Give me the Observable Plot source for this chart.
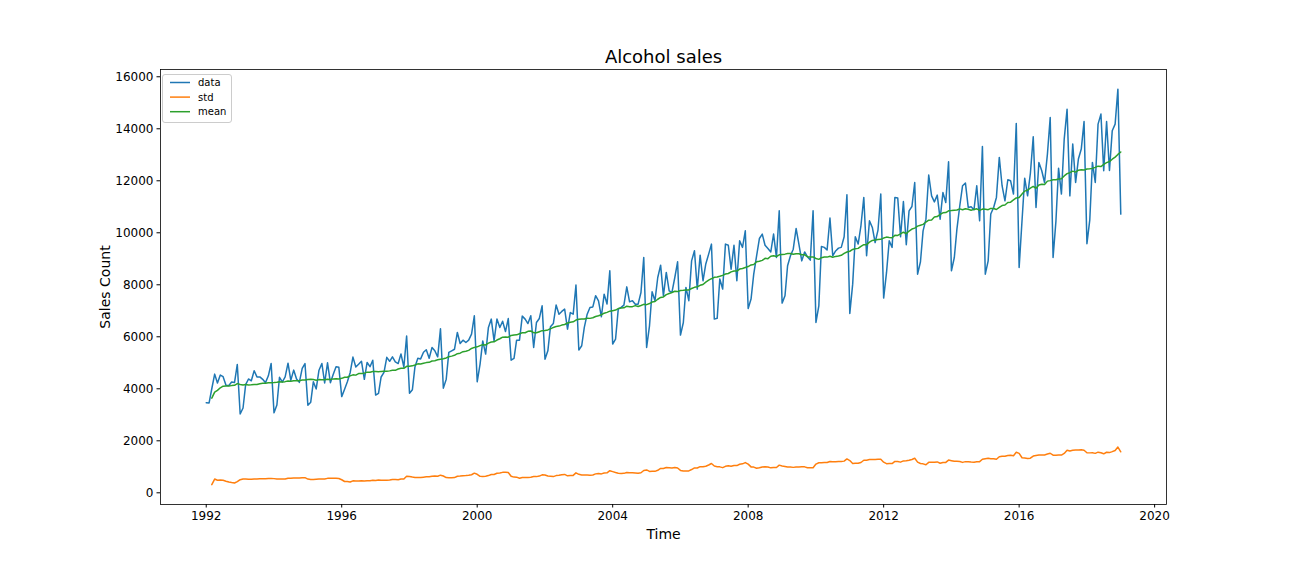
<!DOCTYPE html>
<html>
<head>
<meta charset="utf-8">
<script src="https://cdn.jsdelivr.net/npm/d3@7"></script>
<script src="https://cdn.jsdelivr.net/npm/@observablehq/plot@0.6"></script>
<style>
  html, body { margin: 0; padding: 0; background: white; }
  #chart svg { display: block; }
</style>
</head>
<body>
<div id="chart"></div>
<script>
// ---- data (monthly, starting January 1992) ----
const startYear = 1992;
const sales = [
  3459, 3458, 4002, 4564, 4221, 4529, 4466, 4137, 4126, 4259, 4240, 4936,
  3031, 3261, 4160, 4377, 4307, 4696, 4458, 4457, 4364, 4236, 4500, 4974,
  3075, 3377, 4443, 4261, 4460, 4985, 4324, 4719, 4374, 4248, 4784, 4971,
  3370, 3484, 4269, 3994, 4715, 4974, 4223, 5000, 4235, 4554, 4851, 4826,
  3699, 3983, 4262, 4619, 5219, 4836, 4941, 5062, 4365, 5012, 4850, 5097,
  3758, 3825, 4454, 4635, 5210, 5057, 5231, 5034, 4970, 5342, 4831, 6031,
  3830, 3964, 4850, 5173, 5150, 5406, 5502, 5174, 5592, 5465, 5229, 6306,
  4025, 4370, 5400, 5460, 5520, 6166, 5740, 5870, 5780, 5870, 6100, 6807,
  4270, 4950, 5840, 5335, 6360, 6680, 5840, 6680, 6360, 6600, 6200, 6700,
  5100, 5170, 5870, 5870, 6795, 6680, 6510, 6810, 5590, 6550, 6705, 7190,
  5140, 5460, 6385, 6510, 7220, 6870, 6975, 7065, 6295, 6930, 6870, 7990,
  5490, 5655, 6360, 6870, 7130, 7150, 7580, 7385, 6770, 7640, 7260, 8540,
  5720, 5910, 7065, 7130, 7220, 7920, 7345, 7390, 7255, 7255, 7705, 9050,
  5590, 6420, 7730, 7390, 8280, 8755, 7575, 8475, 7770, 7705, 8280, 8885,
  6065, 6550, 7900, 7390, 8920, 9310, 7835, 9140, 8155, 8800, 9180, 9565,
  6680, 6710, 8220, 7835, 9565, 9520, 8600, 9520, 8155, 9690, 9440, 10075,
  7090, 7450, 8410, 9115, 9780, 9950, 9520, 9395, 9265, 9950, 9050, 10845,
  7295, 7575, 8730, 9115, 9370, 10165, 9565, 8920, 9265, 9075, 8950, 10845,
  6550, 7190, 9475, 9440, 9340, 10565, 9115, 9300, 9410, 9440, 9845, 11460,
  6895, 8025, 9845, 9565, 10270, 11360, 9115, 10460, 10205, 9625, 10105, 11490,
  7490, 8475, 9690, 9440, 11360, 11335, 9845, 11205, 9540, 10845, 11010, 11935,
  8410, 8885, 10075, 10525, 12220, 11420, 11190, 11450, 10525, 11550, 11165, 12730,
  8540, 9050, 10140, 11040, 11810, 11910, 10975, 11000, 10885, 11810, 10460, 13320,
  8410, 8920, 10720, 10975, 11360, 12900, 11810, 11230, 12040, 12000, 11490, 14205,
  8665, 10460, 12100, 11420, 12280, 13690, 10975, 12705, 12385, 11935, 13025, 14435,
  9050, 10460, 12485, 11490, 13600, 14755, 11420, 13410, 11935, 12835, 13220, 14280,
  9580, 10500, 12705, 11935, 14180, 14565, 12385, 14280, 12400, 13925, 14180, 15525,
  10718
];
const rollingWindow = 12;
const minPeriods = 3;
const seriesNames = ["data", "std", "mean"];
const seriesColors = ["#1f77b4", "#ff7f0e", "#2ca02c"];
const xTickYears = [1992, 1996, 2000, 2004, 2008, 2012, 2016, 2020];
const yTickValues = [0, 2000, 4000, 6000, 8000, 10000, 12000, 14000, 16000];
const titleText = "Alcohol sales";
const xLabel = "Time";
const yLabel = "Sales Count";

// ---- build table ----
const t0 = new Date(Date.UTC(startYear, 0, 1));
const rows = sales.map((v, i) => ({date: d3.utcMonth.offset(t0, i), value: v}));
const tStart = +rows[0].date, tEnd = +rows[rows.length - 1].date;
const pad = 0.05 * (tEnd - tStart);

const chart = Plot.plot({
  width: 1296,
  height: 576,
  marginLeft: 160,
  marginRight: 130,
  marginTop: 69,
  marginBottom: 72,
  style: {fontFamily: "DejaVu Sans", fontSize: "12px", color: "black", background: "white", overflow: "visible"},
  x: {
    type: "utc",
    domain: [new Date(tStart - pad), new Date(tEnd + pad)],
    ticks: xTickYears.map(y => new Date(Date.UTC(y, 0, 1))),
    tickFormat: d3.utcFormat("%Y"),
    tickSize: 3.5, tickPadding: 3.5, label: null
  },
  y: {
    domain: [-450, 16280],
    ticks: yTickValues,
    tickFormat: d => String(d),
    tickSize: 3.5, tickPadding: 3.5, label: null
  },
  marks: [
    Plot.lineY(rows, {x: "date", y: "value", stroke: seriesColors[0], strokeWidth: 1.5}),
    Plot.lineY(rows, Plot.windowY(
      {k: rollingWindow, anchor: "end", strict: false,
       reduce: v => v.length < minPeriods ? NaN : d3.deviation(v)},
      {x: "date", y: "value", stroke: seriesColors[1], strokeWidth: 1.5})),
    Plot.lineY(rows, Plot.windowY(
      {k: rollingWindow, anchor: "end", strict: false,
       reduce: v => v.length < minPeriods ? NaN : d3.mean(v)},
      {x: "date", y: "value", stroke: seriesColors[2], strokeWidth: 1.5})),
    Plot.frame({stroke: "black", strokeWidth: 0.8}),
    Plot.text([titleText], {frameAnchor: "top", dy: -12, fontSize: 18, lineAnchor: "middle", textAnchor: "middle"}),
    Plot.text([xLabel], {frameAnchor: "bottom", dy: 30, fontSize: 14, lineAnchor: "middle", textAnchor: "middle"}),
    Plot.text([yLabel], {frameAnchor: "left", dx: -55, rotate: -90, fontSize: 14, lineAnchor: "middle", textAnchor: "middle"})
  ]
});

// ---- legend (matplotlib-style, upper left) ----
const svg = d3.select(chart);
const lg = svg.append("g").attr("font-family", "DejaVu Sans").attr("font-size", "10px");
lg.append("rect")
  .attr("x", 162.5).attr("y", 74.5).attr("width", 69).attr("height", 48)
  .attr("rx", 2.5).attr("fill", "white").attr("fill-opacity", 0.8)
  .attr("stroke", "#cccccc").attr("stroke-width", 1);
seriesNames.forEach((name, i) => {
  const yy = 82.5 + i * 14.6;
  lg.append("line").attr("x1", 170).attr("x2", 190).attr("y1", yy).attr("y2", yy)
    .attr("stroke", seriesColors[i]).attr("stroke-width", 1.5);
  lg.append("text").attr("x", 198).attr("y", yy).attr("dy", "0.35em")
    .attr("fill", "black").attr("text-anchor", "start").text(name);
});

document.getElementById("chart").appendChild(chart);
</script>
</body>
</html>
